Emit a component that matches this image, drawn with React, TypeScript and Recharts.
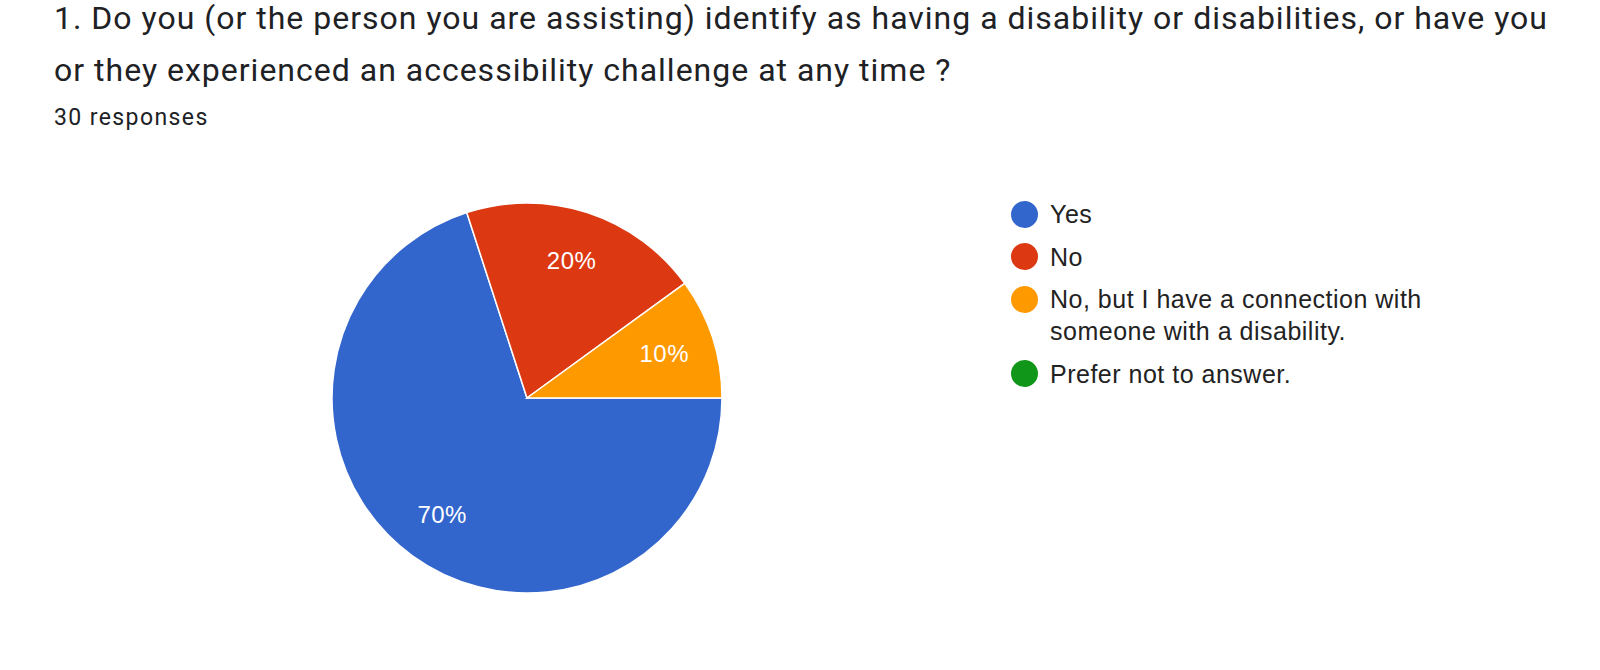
import { Legend, Pie, PieChart } from 'recharts'

const answers = ['Yes', 'No', 'No, but I have a connection with someone with a disability.', 'Prefer not to answer.']
const counts = [21, 6, 3, 0]
const palette = ['#3366cc', '#dc3912', '#ff9900', '#109618']

const total = counts.reduce((a, b) => a + b, 0)
const data = answers.map((name, i) => ({ name, value: counts[i], fill: palette[i] }))

const RADIAN = Math.PI / 180

const SliceLabel = ({ cx, cy, midAngle, outerRadius, value }: any) => {
    if (!value) return null
    const r = outerRadius * 0.74
    const x = cx + r * Math.cos(-midAngle * RADIAN)
    const y = cy + r * Math.sin(-midAngle * RADIAN)
    return (
        <text
            x={x}
            y={y}
            fill="#fff"
            fontSize={24}
            letterSpacing={0.5}
            fontFamily="'Liberation Sans', Arial, sans-serif"
            textAnchor="middle"
            dominantBaseline="central"
        >
            {`${Math.round((value / total) * 100)}%`}
        </text>
    )
}

const LegendList = () => (
    <ul
        style={{
            listStyle: 'none',
            margin: 0,
            padding: 0,
            fontFamily: "'Liberation Sans', Arial, sans-serif",
            fontSize: 25,
            letterSpacing: 0.5,
            color: '#222',
        }}
    >
        {data.map((d) => (
            <li key={d.name} style={{ display: 'flex', alignItems: 'flex-start', marginBottom: 10.5 }}>
                <span style={{ width: 27, height: 27, borderRadius: '50%', background: d.fill, flexShrink: 0, marginRight: 12, marginTop: 2.5 }} />
                <span style={{ width: 400, lineHeight: '32px' }}>{d.name}</span>
            </li>
        ))}
    </ul>
)

export default function App() {
    return (
        <div style={{ position: 'absolute', left: 0, top: 0, width: 1600, height: 670, background: '#fff', overflow: 'hidden' }}>
            <div style={{ position: 'absolute', left: 54, top: -8, fontFamily: 'Roboto, sans-serif', color: '#202124', whiteSpace: 'nowrap' }}>
                <div style={{ fontSize: 32, lineHeight: '52px', letterSpacing: 1 }}>
                    1. Do you (or the person you are assisting) identify as having a disability or disabilities, or have you
                    <br />
                    or they experienced an accessibility challenge at any time ?
                </div>
                <div style={{ fontSize: 23, lineHeight: '30px', marginTop: 7, letterSpacing: 1.4 }}>{`${total} responses`}</div>
            </div>
            <div style={{ position: 'absolute', left: 0, top: 0 }}>
                <PieChart width={1600} height={670} margin={{ top: 0, right: 0, bottom: 0, left: 0 }}>
                    <Pie
                        data={data}
                        dataKey="value"
                        nameKey="name"
                        cx={527}
                        cy={398}
                        outerRadius={195}
                        startAngle={0}
                        endAngle={-360}
                        stroke="#fff"
                        strokeWidth={1.5}
                        label={SliceLabel}
                        labelLine={false}
                        isAnimationActive={false}
                    />
                    <Legend content={<LegendList />} layout="vertical" wrapperStyle={{ left: 1011, top: 198, width: 480 }} />
                </PieChart>
            </div>
        </div>
    )
}
